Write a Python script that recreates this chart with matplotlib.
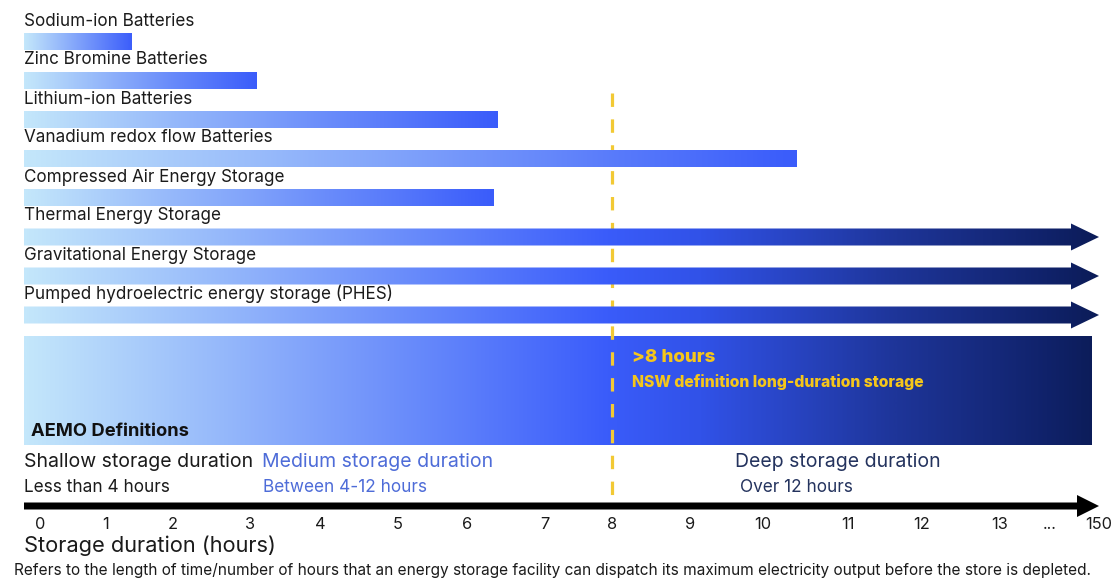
import numpy as np
import matplotlib
matplotlib.use('Agg')
import matplotlib.pyplot as plt
import matplotlib.transforms as mtransforms
from matplotlib.colors import LinearSegmentedColormap
from matplotlib.patches import Polygon, Rectangle

plt.rcParams['font.family'] = ['Inter', 'DejaVu Sans']

# storage technologies and the longest duration each can deliver (hours)
techs = [
    'Sodium-ion Batteries',
    'Zinc Bromine Batteries',
    'Lithium-ion Batteries',
    'Vanadium redox flow Batteries',
    'Compressed Air Energy Storage',
    'Thermal Energy Storage',
    'Gravitational Energy Storage',
    'Pumped hydroelectric energy storage (PHES)',
]
max_hours = [1.4, 3.1, 6.4, 10.4, 6.35, 150, 150, 150]
open_ended = [False, False, False, False, False, True, True, True]

tick_hours = [0, 1, 2, 3, 4, 5, 6, 7, 8, 9, 10, 11, 12, 13, 150]
tick_labels = [str(h) for h in tick_hours]
nsw_hours = 8

# the hour axis is hand spaced, so map hours -> page px piecewise
tick_px = [40, 106, 173, 250, 320, 398, 467, 545, 612, 690, 763, 848, 922, 1000, 1099]
knot_h = [-1] + tick_hours + [300]
knot_p = [-26] + tick_px + [1250]


def fwd(h):
    return np.interp(h, knot_h, knot_p)


def inv(p):
    return np.interp(p, knot_p, knot_h)


W, H = 1115, 580
L = 24
fig = plt.figure(figsize=(W / 100, H / 100), dpi=100)
ax = fig.add_axes([L / W, 0, 1 - L / W, 1])
ax.set_xscale('function', functions=(fwd, inv))
x0 = float(inv(L))

bar_cmap = LinearSegmentedColormap.from_list('bar', ['#c4e7fb', '#3a5cfa'])
deep_cmap = LinearSegmentedColormap.from_list('deep', [
    (0.0, '#c4e7fb'), (0.535, '#3a5cfa'), (0.62, '#3152e8'),
    (0.80, '#1e3599'), (0.94, '#10226a'), (1.0, '#0a1a52')])
grad = np.linspace(0, 1, 512)[None, :]


def arrow_patch(xa, xb, yc, half_body, half_head, head_px, **kw):
    xh = float(inv(fwd(xb) - head_px))
    verts = [(xa, yc - half_body), (xh, yc - half_body), (xh, yc - half_head),
             (xb, yc), (xh, yc + half_head), (xh, yc + half_body),
             (xa, yc + half_body)]
    return Polygon(verts, closed=True, **kw)


row_y = 42 + 39 * np.arange(len(techs))
BAR_H = 17
ink = '#1b1b1b'

for name, hrs, ext, y in zip(techs, max_hours, open_ended, row_y):
    ax.text(x0, y - 21, name, fontsize=12.3, va='center', color=ink)
    if ext:
        p = arrow_patch(x0, hrs, y, BAR_H / 2, 13.5, 28, facecolor='none',
                        edgecolor='none')
        ax.add_patch(p)
        im = ax.imshow(grad, cmap=deep_cmap, extent=(0, 1, 0, 1),
                       transform=ax.transAxes, aspect='auto', zorder=3,
                       interpolation='bilinear')
        im.set_clip_path(p)
    else:
        ax.imshow(grad, cmap=bar_cmap, extent=(x0, hrs, y + BAR_H / 2, y - BAR_H / 2),
                  aspect='auto', zorder=3, interpolation='bilinear')

# AEMO definitions band
blend = mtransforms.blended_transform_factory(ax.transAxes, ax.transData)
box = Rectangle((0, 336), (1092 - L) / (W - L), 109, transform=blend,
                facecolor='none', edgecolor='none')
ax.add_patch(box)
im = ax.imshow(grad, cmap=deep_cmap, extent=(0, 1, 0, 1), transform=ax.transAxes,
               aspect='auto', zorder=1, interpolation='bilinear')
im.set_clip_path(box)

# NSW 8 hour threshold
ax.plot([nsw_hours, nsw_hours], [93, 500], color='#f2c934', lw=2.3,
        dashes=(4.2, 3.9), zorder=2, dash_capstyle='butt')

# duration axis arrow
ax.add_patch(arrow_patch(x0, tick_hours[-1], 506, 3.5, 11, 22,
                         facecolor='black', edgecolor='none', zorder=4))

for s in ax.spines.values():
    s.set_visible(False)
ax.spines['bottom'].set_position(('data', 506))
ax.set_xticks(tick_hours, tick_labels)
mid = float(inv((fwd(13) + fwd(150)) / 2))
ax.set_xticks([mid], ['...'], minor=True)
ax.tick_params(axis='x', which='both', length=0, pad=8, labelsize=11.8,
               labelcolor=ink)
ax.set_yticks([])
ax.set_xlabel('Storage duration (hours)', fontsize=15.7, ha='left', va='center',
              color=ink)
ax.xaxis.set_label_coords(0.0, 1 - 546 / H)

ax.set_xlim(x0, float(inv(W)))
ax.set_ylim(H, 0)
ax.set_facecolor('none')


def put(px, py, s, **kw):
    fig.text(px / W, 1 - py / H, s, va='center', **kw)


yellow = '#f5c61a'
put(632, 358, '>8 hours', fontsize=13.5, fontweight='heavy', color=yellow)
put(632, 382, 'NSW definition long-duration storage', fontsize=11.3,
    fontweight='heavy', color=yellow)
put(31, 431, 'AEMO Definitions', fontsize=13.2, fontweight='bold', color='#111111')

mid_blue = '#4e6cd8'
deep_navy = '#24335e'
put(24, 462, 'Shallow storage duration', fontsize=14, color=ink)
put(262, 462, 'Medium storage duration', fontsize=14, color=mid_blue)
put(838, 462, 'Deep storage duration', fontsize=14, color=deep_navy, ha='center')
put(24, 488, 'Less than 4 hours', fontsize=12.4, color=ink)
put(263, 488, 'Between 4-12 hours', fontsize=12.4, color=mid_blue)
put(796, 488, 'Over 12 hours', fontsize=12.4, color=deep_navy, ha='center')

put(14, 571, 'Refers to the length of time/number of hours that an energy storage '
    'facility can dispatch its maximum electricity output before the store is depleted.',
    fontsize=11.1, color=ink)

fig.savefig('out.png', dpi=100)
